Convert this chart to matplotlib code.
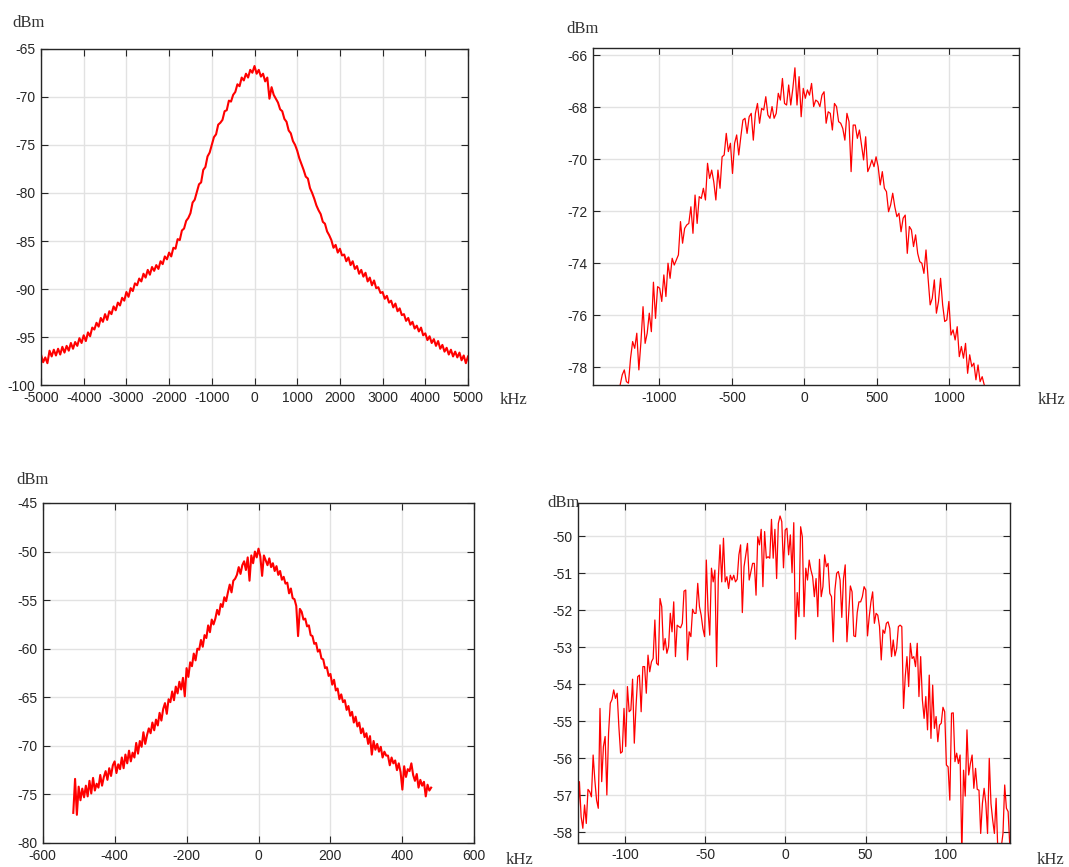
import matplotlib

matplotlib.use("Agg")
import matplotlib.pyplot as plt
import numpy as np

plt.rcParams["axes.unicode_minus"] = False

# top-left: wide span, 50 kHz bins
tl_start, tl_stop = -5000, 5000
tl_dbm = [
    -96.8, -97.6, -97.1, -97.7, -96.4, -97.0, -96.3, -96.9, -96.2, -96.8,
    -96.0, -96.6, -95.9, -96.4, -95.6, -96.2, -95.5, -95.9, -95.1, -95.6,
    -94.8, -95.4, -94.5, -94.9, -94.0, -94.2, -93.5, -93.9, -93.0, -93.4,
    -92.6, -93.2, -92.3, -92.6, -91.8, -92.2, -91.4, -91.7, -90.9, -91.2,
    -90.3, -90.8, -89.9, -90.2, -89.4, -89.6, -88.9, -89.2, -88.4, -88.8,
    -88.0, -88.5, -87.7, -88.1, -87.5, -87.9, -87.1, -87.4, -86.6, -86.9,
    -86.2, -86.6, -85.7, -85.8, -84.8, -84.9, -83.9, -83.7, -82.9, -82.6,
    -82.1, -81.0, -80.7, -79.9, -79.1, -78.9, -77.6, -77.3, -76.2, -75.8,
    -75.0, -74.2, -73.9, -72.9, -72.7, -72.4, -71.5, -71.4, -70.4, -70.5,
    -69.8, -69.5, -68.7, -68.9, -68.0, -68.3, -67.6, -68.0, -67.2, -67.5,
    -66.8, -67.6, -67.2, -67.9, -67.6, -68.4, -68.0, -70.2, -69.0, -69.8,
    -70.2, -70.6, -71.3, -71.5, -72.3, -72.6, -73.5, -73.8, -74.6, -75.0,
    -75.6, -76.4, -77.0, -77.6, -78.3, -78.5, -79.5, -80.0, -80.6, -81.3,
    -81.8, -82.2, -83.0, -83.2, -84.0, -84.4, -84.9, -85.7, -85.4, -86.2,
    -85.8, -86.5, -86.4, -87.1, -86.7, -87.5, -87.1, -87.9, -87.6, -88.4,
    -88.0, -88.7, -88.3, -89.2, -88.8, -89.6, -89.1, -89.9, -89.8, -90.4,
    -90.3, -91.0, -90.7, -91.4, -91.2, -91.9, -91.5, -92.3, -92.0, -92.7,
    -92.6, -93.3, -93.0, -93.7, -93.4, -94.1, -93.8, -94.4, -94.0, -94.8,
    -94.6, -95.3, -94.9, -95.6, -95.2, -95.9, -95.4, -96.2, -95.8, -96.5,
    -96.1, -96.8, -96.3, -97.0, -96.5, -97.1, -96.6, -97.4, -96.9, -97.7,
    -97.0,
]

# top-right: zoom on the central 2.5 MHz
tr_start, tr_stop = -1285, 1270
tr_dbm = [
    -79.30, -78.68, -78.29, -78.10, -78.55, -78.61, -77.65, -77.01, -77.27, -76.69,
    -78.10, -77.01, -75.67, -77.08, -76.69, -75.92, -76.63, -74.73, -76.12, -74.90,
    -74.96, -75.47, -74.45, -75.28, -74.00, -74.58, -73.81, -74.07, -73.87, -73.68,
    -72.40, -73.23, -72.66, -72.53, -72.47, -71.83, -72.85, -71.38, -72.47, -71.44,
    -71.51, -71.12, -71.57, -70.16, -70.74, -70.42, -70.87, -71.57, -70.42, -71.12,
    -69.91, -69.84, -69.01, -69.71, -69.39, -70.55, -69.39, -69.07, -69.84, -69.14,
    -68.50, -68.43, -69.01, -68.37, -68.24, -69.27, -68.24, -67.86, -68.62, -68.05,
    -68.11, -67.60, -68.30, -68.43, -67.98, -68.43, -68.24, -67.47, -67.73, -66.90,
    -67.86, -67.92, -67.15, -67.92, -67.28, -66.49, -67.92, -66.83, -68.37, -67.28,
    -67.66, -67.34, -67.54, -67.09, -67.98, -67.73, -67.79, -67.98, -67.54, -67.41,
    -68.62, -68.18, -68.24, -68.88, -67.86, -67.98, -68.56, -68.62, -68.82, -69.27,
    -68.24, -68.56, -70.48, -68.69, -68.69, -69.20, -68.88, -69.46, -70.03, -69.14,
    -70.48, -70.29, -70.03, -70.29, -69.91, -70.29, -70.99, -70.48, -71.12, -71.25,
    -72.02, -71.76, -71.31, -71.83, -72.21, -72.08, -72.79, -72.27, -72.15, -73.62,
    -72.59, -72.72, -73.36, -72.91, -73.62, -73.94, -74.00, -74.39, -73.49, -74.58,
    -75.60, -75.35, -74.64, -75.92, -75.47, -74.58, -75.60, -76.24, -76.18, -75.47,
    -76.76, -76.56, -76.95, -76.44, -77.59, -77.20, -77.65, -77.08, -78.23, -77.52,
    -77.97, -77.84, -78.48, -77.91, -78.55, -78.36, -78.68, -78.80, -79.30,
]

# bottom-left: 5 kHz bins
bl_start, bl_stop = -515, 480
bl_dbm = [
    -76.9, -73.4, -77.1,
    -74.2, -75.6, -74.4, -75.3, -74.1, -75.2, -73.6, -74.9,
    -73.3, -74.6, -73.9, -74.3, -73.0, -74.1, -73.2, -72.6,
    -73.5, -72.3, -73.1, -72.0, -71.6, -72.8, -71.9, -72.4,
    -71.2, -72.3, -70.9, -71.8, -70.5, -71.6, -70.7, -71.2,
    -69.7, -70.8, -69.5, -70.1, -68.6, -69.8, -68.9, -68.2,
    -68.7, -67.6, -68.4, -67.3, -67.9, -66.6, -67.4, -66.2,
    -65.6, -66.7, -65.2, -65.5, -64.4, -65.3, -63.9, -64.6,
    -63.4, -64.2, -63.0, -64.9, -62.0, -62.9, -61.4, -61.8,
    -60.5, -61.2, -60.0, -60.1, -59.1, -59.8, -58.6, -58.9,
    -57.6, -58.3, -57.0, -57.5, -56.9, -56.0, -56.5, -55.4,
    -55.7, -54.7, -55.1, -54.2, -53.4, -54.2, -53.0, -52.8,
    -52.4, -51.6, -52.3, -51.4, -51.0, -51.9, -50.6, -53.0,
    -50.4, -51.2, -50.0, -50.6, -49.7, -50.5, -52.5, -50.4,
    -50.9, -51.4, -50.7, -51.6, -51.2, -52.0, -51.5, -52.4,
    -52.0, -52.9, -52.6, -53.3, -53.2, -54.3, -53.8, -54.8,
    -54.9, -55.6, -58.7, -55.9, -56.2, -57.0, -56.9, -57.7,
    -57.6, -58.6, -58.7, -59.5, -59.4, -60.3, -60.1, -61.0,
    -61.1, -62.0, -61.9, -62.8, -62.6, -63.7, -63.2, -64.3,
    -64.1, -65.2, -64.7, -65.5, -65.3, -66.3, -65.9, -66.9,
    -66.5, -67.6, -67.0, -68.0, -67.6, -68.7, -68.2, -69.1,
    -68.7, -69.8, -69.0, -70.9, -69.5, -70.4, -69.8, -70.6,
    -70.1, -71.2, -70.6, -71.0, -71.0, -72.0, -71.2, -71.8,
    -71.5, -72.5, -71.8, -72.7, -74.5, -72.1, -73.2, -72.4,
    -72.6, -71.8, -73.0, -73.6, -72.9, -74.3, -73.5, -74.1,
    -73.7, -75.2, -74.0, -74.6,
    -74.3,
]

# bottom-right: zoom on the central 270 kHz
br_start, br_stop = -129.5, 140.0
br_dbm = [
    -57.80, -56.63, -57.58, -57.89, -57.26, -57.76, -56.84, -56.90, -57.04, -55.91,
    -56.59, -57.13, -57.35, -54.65, -56.63, -55.68, -55.41, -56.99, -55.32, -54.51,
    -54.41, -54.15, -54.38, -54.24, -55.14, -55.86, -55.82, -54.65, -55.68, -54.06,
    -54.74, -54.69, -53.86, -55.59, -54.60, -53.79, -53.75, -54.74, -53.52, -53.52,
    -54.24, -53.21, -53.66, -53.39, -53.30, -52.26, -53.43, -53.48, -51.68, -51.90,
    -53.07, -52.76, -53.16, -52.98, -52.08, -52.58, -51.77, -53.25, -52.40, -52.44,
    -52.47, -52.35, -51.48, -51.45, -53.34, -52.58, -52.71, -51.97, -52.08, -52.08,
    -51.27, -51.90, -52.13, -52.49, -52.71, -50.64, -51.99, -52.67, -50.86, -51.23,
    -50.91, -53.52, -51.14, -50.23, -51.23, -50.05, -51.23, -51.09, -51.41, -51.05,
    -51.18, -51.05, -51.23, -51.16, -50.50, -50.23, -52.06, -50.82, -50.50, -50.19,
    -51.18, -50.95, -50.73, -50.73, -51.59, -50.01, -50.23, -49.81, -51.36, -49.87,
    -50.59, -50.55, -50.59, -49.54, -50.59, -49.81, -51.14, -49.65, -49.45, -49.60,
    -50.85, -49.83, -49.78, -50.50, -49.96, -50.98, -49.63, -52.78, -51.52, -52.17,
    -49.74, -50.01, -52.17, -50.86, -51.18, -50.64, -50.91, -51.09, -51.63, -51.14,
    -52.17, -50.62, -51.63, -51.36, -50.50, -50.82, -50.73, -51.54, -51.63, -52.85,
    -51.45, -51.00, -50.95, -51.18, -52.19, -51.14, -50.77, -52.85, -52.08, -51.34,
    -51.50, -52.69, -52.71, -52.06, -51.77, -51.77, -51.63, -51.36, -51.45, -52.69,
    -52.17, -51.77, -51.50, -52.35, -52.08, -52.13, -52.44, -53.34, -52.53, -52.62,
    -52.35, -52.31, -52.49, -53.25, -52.80, -53.23, -53.03, -52.44, -52.40, -52.44,
    -54.65, -53.79, -53.25, -54.06, -52.89, -53.30, -53.25, -53.52, -52.89, -54.33,
    -53.25, -54.42, -54.92, -54.33, -55.23, -53.75, -55.46, -54.02, -55.19, -54.87,
    -55.55, -55.10, -55.05, -54.62, -54.74, -56.18, -56.23, -57.13, -54.78, -54.77,
    -56.09, -55.86, -56.14, -55.91, -58.60, -56.32, -57.02, -55.23, -56.45, -56.14,
    -55.91, -56.81, -56.27, -56.84, -56.86, -58.03, -57.22, -56.81, -57.22, -58.03,
    -56.00, -57.22, -57.67, -58.03, -57.08, -58.50, -58.50, -58.40, -58.03, -56.72,
    -57.35, -57.44, -58.40,
]

W, H = 1069, 867
TICK_COLOR = "#262626"
SANS = ["Liberation Sans", "DejaVu Sans"]
SERIF = ["Liberation Serif", "DejaVu Serif"]


def px_rect(x0, y0, x1, y1):
    return [x0 / W, 1 - y1 / H, (x1 - x0) / W, (y1 - y0) / H]


def style_axis(ax, xlim, ylim, xticks, yticks):
    ax.set_xlim(*xlim)
    ax.set_ylim(*ylim)
    ax.set_xticks(xticks)
    ax.set_yticks(yticks)
    ax.grid(True, color="#e2e2e2", linewidth=1.0)
    ax.set_axisbelow(True)
    ax.tick_params(direction="in", top=True, right=True, length=5, width=0.8,
                   colors=TICK_COLOR, labelsize=10, pad=4)
    for label in ax.get_xticklabels() + ax.get_yticklabels():
        label.set_family(SANS)
    for spine in ax.spines.values():
        spine.set_color(TICK_COLOR)
        spine.set_linewidth(1.0)


fig = plt.figure(figsize=(W / 100, H / 100), dpi=100)

panels = [
    (px_rect(41, 48.7, 468, 385.3), tl_start, tl_stop, tl_dbm, 1.5,
     (-5000, 5000), (-100, -65), np.arange(-5000, 5001, 1000), np.arange(-100, -64, 5)),
    (px_rect(592.7, 48.3, 1019.3, 385), tr_start, tr_stop, tr_dbm, 0.9,
     (-1460, 1483), (-78.68, -65.74), [-1000, -500, 0, 500, 1000], np.arange(-78, -65, 2)),
    (px_rect(42.7, 503, 474.3, 843), bl_start, bl_stop, bl_dbm, 1.5,
     (-600, 600), (-80, -45), np.arange(-600, 601, 200), np.arange(-80, -44, 5)),
    (px_rect(577.7, 502.7, 1010, 842.7), br_start, br_stop, br_dbm, 0.9,
     (-129.5, 140.1), (-58.28, -49.09), [-100, -50, 0, 50, 100], np.arange(-58, -49, 1)),
]

for rect, f0, f1, values, lw, xlim, ylim, xt, yt in panels:
    ax = fig.add_axes(rect)
    freq = np.linspace(f0, f1, len(values))
    ax.plot(freq, values, color="#ff0000", linewidth=lw)
    style_axis(ax, xlim, ylim, xt, yt)

# unit labels
for x, y, s in [(12, 27, "dBm"), (566, 33, "dBm"), (16, 484, "dBm"), (547, 507, "dBm"),
                (500, 404, "kHz"), (1038, 404, "kHz"), (506, 864, "kHz"), (1037, 864, "kHz")]:
    fig.text(x / W, 1 - y / H, s, family=SERIF, fontsize=12, color="#333333",
             ha="left", va="baseline")

fig.savefig("out.png", dpi=100)
plt.close(fig)
